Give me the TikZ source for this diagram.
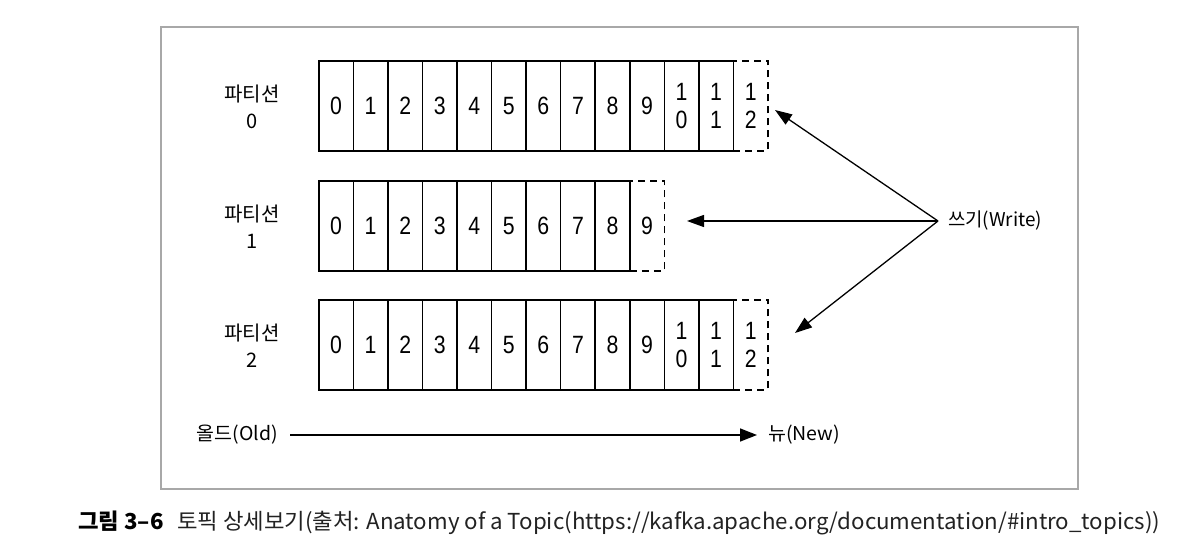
\documentclass[tikz,border=0pt]{standalone}
\usepackage{fontspec}
\usepackage{graphicx}
\setmainfont{Noto Sans CJK KR}
\newfontfamily\digitfont[FakeStretch=0.85]{Liberation Sans}
\usetikzlibrary{arrows.meta}
\definecolor{framegray}{HTML}{A8A8A8}
\definecolor{captext}{HTML}{222222}
\begin{document}
\begin{tikzpicture}[x=1pt,y=-1pt,
  cell/.style={draw=black, line width=1.6pt, minimum width=34.55pt, minimum height=90pt,
    anchor=north west, inner sep=0pt, align=center,
    font=\digitfont\fontsize{25}{28}\selectfont},
  newcell/.style={cell, dash pattern=on 7pt off 5pt},
  plabel/.style={align=center, inner sep=0pt, font=\fontsize{20}{27}\selectfont},
  lbl/.style={inner sep=0pt, font=\fontsize{19}{22}\selectfont},
  warrow/.style={draw=black, line width=1.3pt, -{Triangle[length=17pt,width=12pt]}},
  frame/.style={draw=framegray, line width=1.4pt}
]
\useasboundingbox (0,0) rectangle (1178,553);
\fill[white] (0,0) rectangle (1178,553);
\draw[frame] (161,27) rectangle (1078,489);

% rows 0 and 2
\foreach \r/\y in {0/60,2/299} {
  \node[newcell] (r\r-12) at ({318+12*34.55},\y) {1\\2};
  \foreach \c/\t in {0/0,1/1,2/2,3/3,4/4,5/5,6/6,7/7,8/8,9/9,10/{1\\0},11/{1\\1}}
    \node[cell] (r\r-\c) at ({318+\c*34.55},\y) {\t};
}
% row 1
\node[newcell] (r1-9) at ({318+9*34.55},180) {9};
\foreach \c in {0,...,8}
  \node[cell] (r1-\c) at ({318+\c*34.55},180) {\c};

% partition labels
\node[plabel] (p0) at (252,107) {파티션\\0};
\node[plabel] (p1) at (252,227) {파티션\\1};
\node[plabel] (p2) at (252,346) {파티션\\2};

% write arrows
\node[lbl, anchor=west, inner xsep=10pt] (write) at (938,221) {\resizebox{94pt}{\height}{쓰기(Write)}};
\coordinate (t0) at (775,110);
\coordinate (t1) at (687,221);
\coordinate (t2) at (795,333);
\draw[warrow] (write.west) -- (t0);
\draw[warrow] (write.west) -- (t1);
\draw[warrow] (write.west) -- (t2);

% old / new
\node[lbl, anchor=east, inner xsep=12pt] (old) at (290,435) {\resizebox{81pt}{\height}{올드(Old)}};
\node[lbl, anchor=west, inner xsep=11pt] (new) at (757,435) {\resizebox{72pt}{\height}{뉴(New)}};
\draw[line width=1.5pt, -{Triangle[length=17pt,width=13pt]}] (old.east) -- (new.west);

% caption
\node[anchor=west, inner sep=0pt, text=captext, font=\fontsize{22}{26}\selectfont] (cap) at (78,523)
  {\resizebox{1082pt}{\height}{\textcolor{black}{\textbf{그림 3–6}}\hspace{0.6em}토픽 상세보기(출처: Anatomy of a Topic(https://kafka.apache.org/documentation/\#intro\_topics))}};
\end{tikzpicture}
\end{document}
